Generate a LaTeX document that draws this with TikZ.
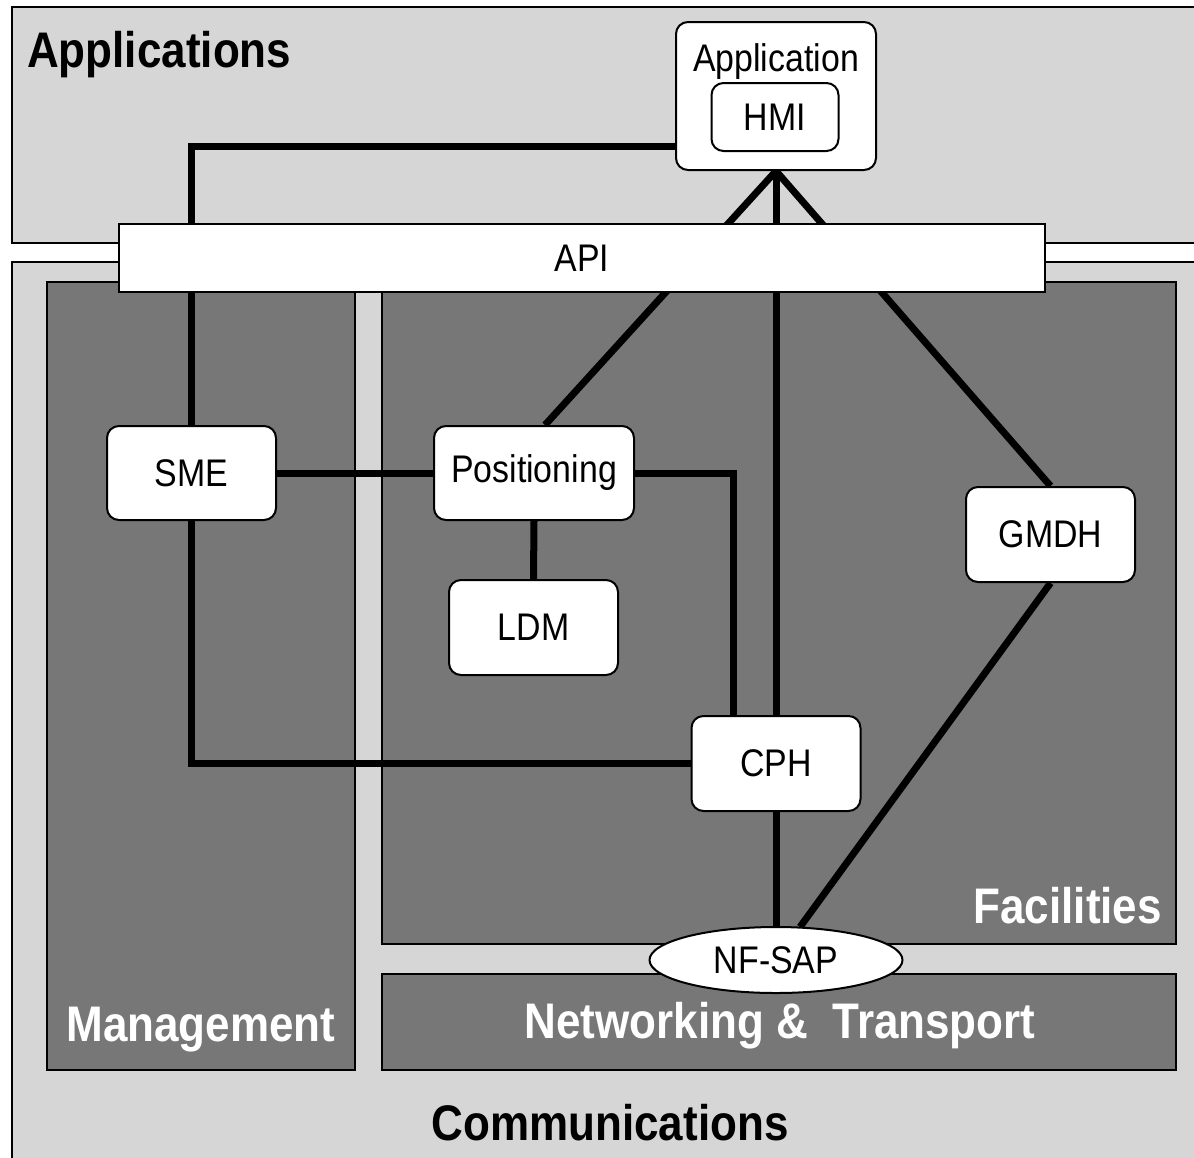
\documentclass[tikz,border=0pt]{standalone}
\usepackage{fontspec}
\setmainfont{Liberation Sans}[FakeStretch=0.88]
\usetikzlibrary{shapes.geometric}
\pgfdeclarelayer{bg}
\pgfdeclarelayer{wires}
\pgfsetlayers{bg,wires,main}
\definecolor{lightgr}{RGB}{214,214,214}
\definecolor{darkgr}{RGB}{119,119,119}
\newcommand\mynodefont{\fontsize{38.5}{44}\selectfont}
\newcommand\myheadfont{\fontsize{50}{56}\selectfont\bfseries}
\begin{document}
\begin{tikzpicture}[x=1pt,y=-1pt,
  panel/.style={draw=black,line width=2pt},
  lightpanel/.style={panel,fill=lightgr},
  darkpanel/.style={panel,fill=darkgr},
  box/.style={draw=black,line width=2pt,fill=white,rounded corners=12pt,
    inner sep=0pt,font=\mynodefont},
  wire/.style={line width=7pt,black,line join=miter},
  head/.style={inner sep=0pt,font=\myheadfont},
  plain/.style={inner sep=0pt,font=\mynodefont}]
\clip (0,0) rectangle (1194,1157);
\begin{pgfonlayer}{bg}
\fill[white] (0,0) rectangle (1194,1157);
\draw[lightpanel] (12,7) rectangle (1210,243);
\draw[lightpanel] (12,262) rectangle (1210,1175);
\draw[darkpanel] (47,282) rectangle (355,1070);
\draw[darkpanel] (382,282) rectangle (1176,944);
\draw[darkpanel] (382,974) rectangle (1176,1070);
\end{pgfonlayer}
% labels of the layers
\node[head,anchor=west] (tapp) at (27,55) {Applications};
\node[head,text=white] (tman) at (201,1030) {Management};
\node[head,text=white] (tnet) at (780,1026) {Networking \&\ \ Transport};
\node[head,text=white,anchor=east] (tfac) at (1162,906) {Facilities};
\node[head] (tcom) at (610,1123) {Communications};
% nodes
\node[box,minimum width=200pt,minimum height=148pt] (app) at (776,96) {};
\node[plain] (applabel) at (776,62) {Application};
\node[box,minimum width=127pt,minimum height=68pt] (hmi) at (775,117) {HMI};
\node[box,rounded corners=0pt,minimum width=926pt,minimum height=68pt] (api) at (582,258) {API};
\node[box,minimum width=169pt,minimum height=94pt] (sme) at (191.5,473) {SME};
\node[box,minimum width=200pt,minimum height=94pt] (pos) at (534,473) {Positioning};
\node[box,minimum width=169pt,minimum height=95pt] (ldm) at (533.5,627.5) {LDM};
\node[box,minimum width=169pt,minimum height=95pt] (cph) at (776,763.5) {CPH};
\node[box,minimum width=169pt,minimum height=95pt] (gmdh) at (1050.5,534.5) {GMDH};
\node[box,rounded corners=0pt,ellipse,minimum width=253pt,minimum height=66pt] (nfsap) at (776,960) {NF-SAP};
% connectors
\begin{pgfonlayer}{wires}
\draw[wire] (sme.north) |- ([yshift=-50pt]app.west);
\draw[wire] (sme.south) |- (cph.west);
\draw[wire] (sme.east) -- (pos.west);
\draw[wire] (pos.east) -| ([xshift=-43pt]cph.north);
\draw[wire] (pos.south) -- (ldm.north);
\draw[wire] (app.south) -- ([xshift=11pt]pos.north);
\draw[wire] (app.south) -- (nfsap.north);
\draw[wire] (app.south) -- (gmdh.north);
\draw[wire] (gmdh.south) -- ([xshift=24pt,yshift=-1pt]nfsap.north);
\end{pgfonlayer}
\end{tikzpicture}
\end{document}
